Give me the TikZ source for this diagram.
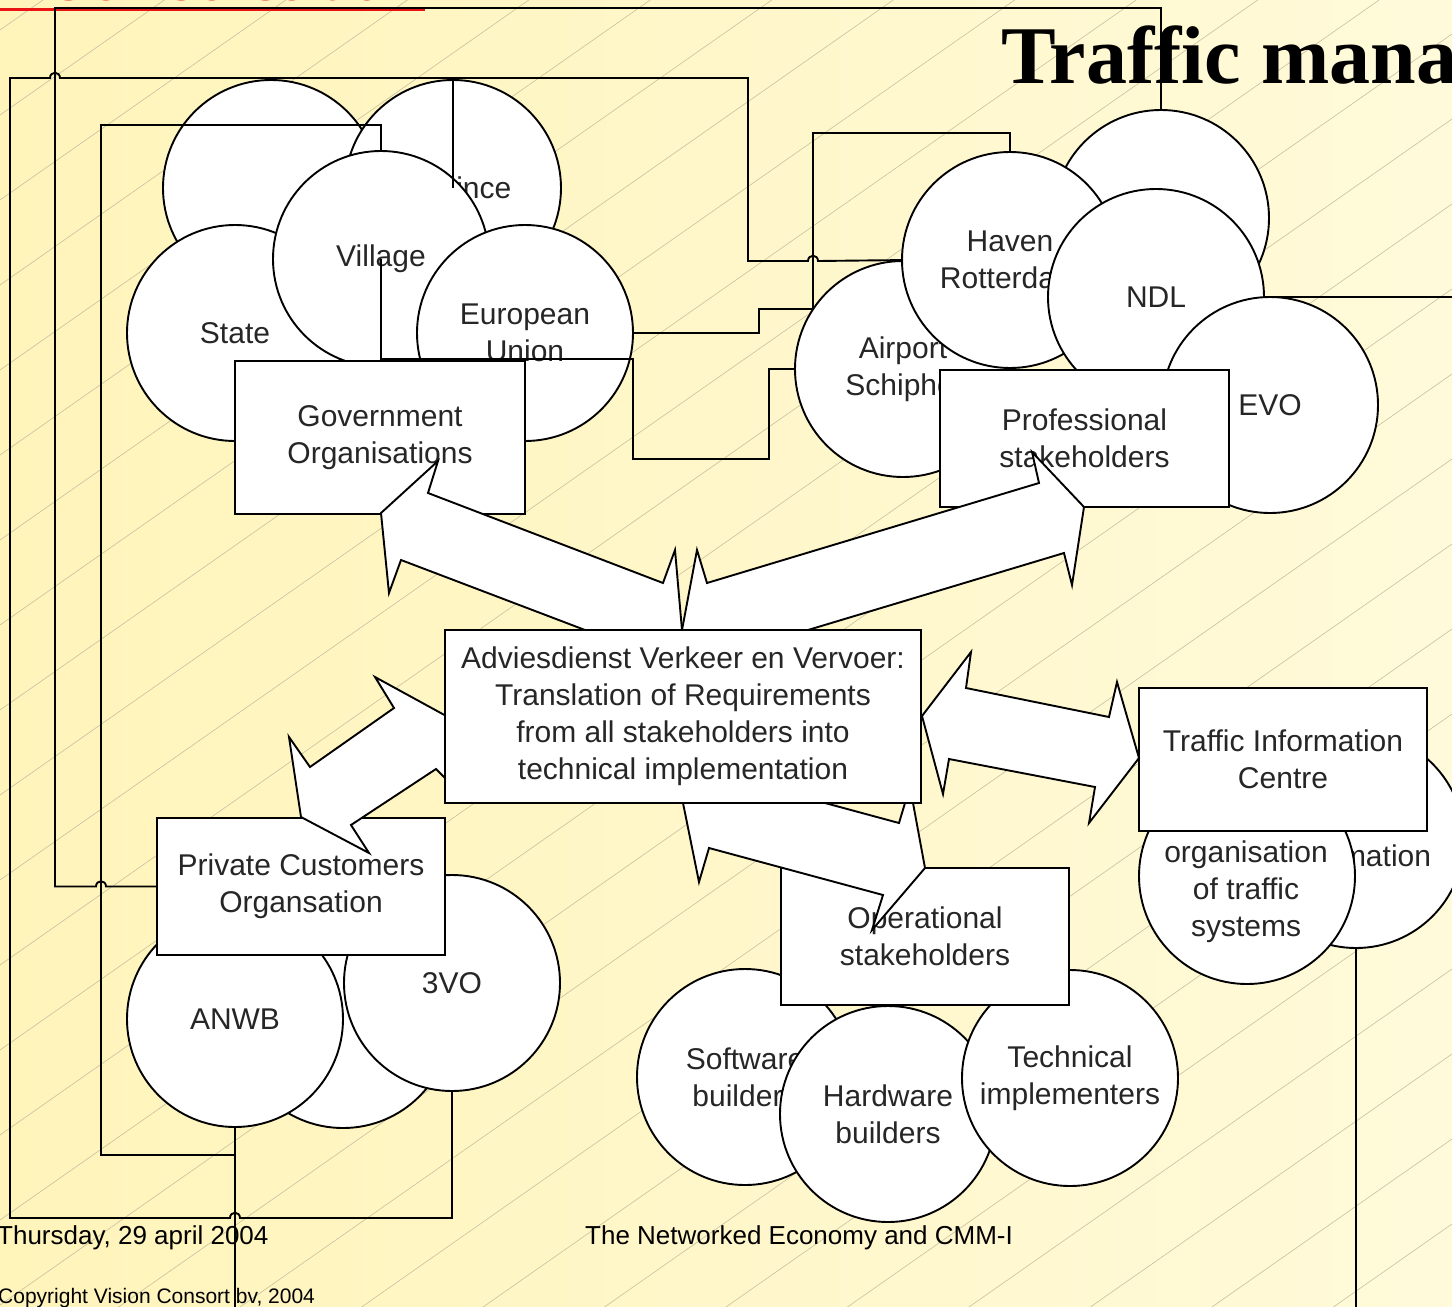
\documentclass[tikz,border=0pt]{standalone}
\usepackage{fontspec}
\setmainfont{Liberation Sans}
\newfontfamily\titlefont{Liberation Serif}
\newcommand\shapetext{\fontsize{30}{37}\selectfont}
\definecolor{slideleft}{RGB}{255,244,186}
\definecolor{slideright}{RGB}{255,250,218}
\definecolor{hatchline}{RGB}{200,192,160}
\definecolor{linkred}{RGB}{235,20,20}

\begin{document}
\begin{tikzpicture}[x=1pt,y=-1pt,
  member/.style={circle, draw=black, fill=white, line width=1.9pt, minimum size=216pt, inner sep=0pt, align=center, font=\shapetext, text=black!85},
  group/.style={rectangle, draw=black, fill=white, line width=1.9pt, inner sep=0pt, align=center, font=\shapetext, text=black!85},
  link/.style={draw=black, line width=1.9pt},
  blockarrow/.style={draw=black, fill=white, line width=1.9pt, line join=miter},
  footer/.style={anchor=base west, inner sep=0pt, font=\fontsize{26}{30}\selectfont}]
\useasboundingbox (0,0) rectangle (1452,1307);
\clip (0,0) rectangle (1452,1307);
\shade[left color=slideleft, right color=slideright] (0,0) rectangle (1452,1307);
\foreach \c in {30,115,...,2430}
  \draw[hatchline, line width=0.6pt] (0,\c) -- (1452,{\c-1016});
\node[anchor=base west, inner sep=0pt, text=linkred, font=\fontsize{50}{55}\selectfont] (header) at (13,0) {Vision Consort bv};
\draw[linkred, line width=3pt] (0,9) -- (425,9);
\node[anchor=base west, inner sep=0pt, font=\titlefont\bfseries\fontsize{82}{90}\selectfont] (title) at (1001,83) {Traffic mana};

% government
\node[member] (govback) at (271,188) {};
\node[member] (province) at (453,188) {Province};
\node[member] (state) at (235,333) {State};
\node[member] (village) at (381,259) {Village};
\node[member] (eu) at (525,333) {European\\Union};
\node[group, minimum width=290pt, minimum height=153pt] (gov) at (380,437.5) {Government\\Organisations};

% professional
\node[member] (profback) at (1161,218) {};
\node[member] (airport) at (903,369) {Airport\\Schiphol};
\node[member] (haven) at (1010,260) {Haven\\Rotterdam};
\node[member] (ndl) at (1156,297) {NDL};
\node[member] (evo) at (1270,405) {EVO};
\node[group, minimum width=289pt, minimum height=137pt] (prof) at (1084.5,438.5) {Professional\\stakeholders};

% private customers
\node[member] (pcback) at (343,1020) {};
\node[member] (anwb) at (235,1019) {ANWB};
\node[member] (threevo) at (452,983) {3VO};
\node[group, minimum width=288pt, minimum height=137pt] (private) at (301,886.5) {Private Customers\\Organsation};

% operational
\node[member] (software) at (745,1077) {Software\\builders};
\node[member] (hardware) at (888,1114) {Hardware\\builders};
\node[member] (technical) at (1070,1078) {Technical\\implementers};
\node[group, minimum width=288pt, minimum height=137pt] (operational) at (925,936.5) {Operational\\stakeholders};

% traffic information
\node[member] (infoback) at (1356,840) {};
\node[font=\shapetext, text=black!85, inner sep=0pt] (infotext) at (1356,856) {Information};
\node[member] (organisation) at (1247,876) {};
\node[font=\shapetext, text=black!85, align=center, inner sep=0pt] (orgtext) at (1246,892) {organisation\\of traffic\\systems};
\node[group, minimum width=288pt, minimum height=143pt] (traffic) at (1283,759.5) {Traffic Information\\Centre};

% block arrows
\draw[blockarrow] (682,630) -- (675,550) -- (663,583) -- (428,493) -- (438,461) -- (381,513) -- (389,593) -- (401,560) -- (585,630) -- cycle;
\draw[blockarrow] (682,630) -- (697,550) -- (707,583) -- (1039,483) -- (1032,452) -- (1084,507) -- (1072,585) -- (1064,553) -- (808,630) -- cycle;
\draw[blockarrow] (470,729) -- (375,677) -- (394,708) -- (310,767) -- (289,737) -- (301,817) -- (369,853) -- (351,825) -- (436,769) -- (447,780) -- cycle;
\draw[blockarrow] (922,716) -- (971,652) -- (966,688) -- (1109,717) -- (1117,682) -- (1139,758) -- (1089,823) -- (1095,787) -- (949,759) -- (943,794) -- cycle;
\draw[blockarrow] (683,803) -- (699,882) -- (709,848) -- (883,895) -- (872,930) -- (925,868) -- (913,803) -- (905,803) -- (899,823) -- (825,803) -- cycle;

\node[group, minimum width=476pt, minimum height=173pt] (advice) at (683,716.5) {Adviesdienst Verkeer en Vervoer:\\Translation of Requirements\\from all stakeholders into\\technical implementation};

% connectors
\coordinate (topbus) at (453,78);
\coordinate (anwbjoin) at (235,1155);
\coordinate (anwbout) at (235,1330);
\coordinate (ndlout) at (1470,297);
\coordinate (infoout) at (1356,1330);
\draw[link] (profback.north) |- (55,8) |- (96,886.5) .. controls (96,879.5) and (106,879.5) .. (106,886.5) -- (private.west);
\draw[link] (threevo.south) |- (240,1218) .. controls (240,1211) and (230,1211) .. (230,1218) -| (10,78) -- (50,78) .. controls (50,71) and (60,71) .. (60,78) -| (748,261) -- (808,261) .. controls (808,254) and (818,254) .. (818,261) -- (airport.north);
\draw[link] (eu.east) -- (759,333) |- (813,309) |- (1010,133) -- (haven.north);
\draw[link] (village.center) -- (381,359) -| (633,459) -| (769,369) -- (airport.west);
\draw[link] (province.center) -- (topbus);
\draw[link] (village.north) |- (101,125) -- (101,1155) -- (anwbjoin);
\draw[link] (anwb.south) -- (anwbout);
\draw[link] (ndl.east) -- (ndlout);
\draw[link] (infoback.south) -- (infoout);

% footer
\node[footer] (date) at (-3,1244) {Thursday, 29 april 2004};
\node[footer] (event) at (585,1244) {The Networked Economy and CMM-I};
\node[footer, font=\fontsize{21}{25}\selectfont] (copyright) at (-2,1303) {Copyright Vision Consort bv, 2004};
\end{tikzpicture}
\end{document}
